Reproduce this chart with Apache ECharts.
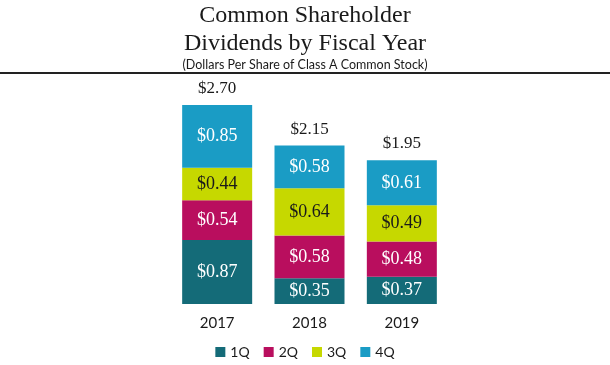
<!DOCTYPE html>
<html>
<head>
<meta charset="utf-8">
<script src="https://cdn.jsdelivr.net/npm/echarts@6/dist/echarts.min.js"></script>
<style>html,body{margin:0;padding:0;background:#fff;}#c{width:610px;height:365px;}</style>
</head>
<body>
<div id="c"></div>
<script>
var years = ['2017', '2018', '2019'];
var q1 = [0.87, 0.35, 0.37];
var q2 = [0.54, 0.58, 0.48];
var q3 = [0.44, 0.64, 0.49];
var q4 = [0.85, 0.58, 0.61];
var totals = [2.70, 2.15, 1.95];
var seriesNames = ['1Q', '2Q', '3Q', '4Q'];
var colors = ['#146b78', '#b90e5e', '#c6d800', '#1a9cc5'];
var labelColors = ['#ffffff', '#ffffff', '#1a1a1a', '#ffffff'];
var serif = '"Liberation Serif", "DejaVu Serif", serif';
var sans = 'Lato, "Liberation Sans", sans-serif';

var chart = echarts.init(document.getElementById('c'), null, {renderer: 'canvas'});
var quarterData = [q1, q2, q3, q4];
var series = quarterData.map(function (d, i) {
  return {
    name: seriesNames[i],
    type: 'bar',
    stack: 'div',
    barWidth: 70,
    data: d,
    itemStyle: {color: colors[i]},
    label: {
      show: true,
      position: 'inside',
      color: labelColors[i],
      fontFamily: serif,
      fontSize: 18,
      formatter: function (p) { return '$' + p.value.toFixed(2); }
    }
  };
});
series.push({
  name: 'Total',
  type: 'bar',
  barWidth: 70,
  barGap: '-100%',
  data: totals,
  z: 0,
  itemStyle: {color: 'rgba(0,0,0,0)'},
  label: {
    show: true,
    position: 'top',
    distance: 8,
    color: '#1a1a1a',
    fontFamily: serif,
    fontSize: 17,
    formatter: function (p) { return '$' + p.value.toFixed(2); }
  },
  emphasis: {disabled: true}
});

chart.setOption({
  animation: false,
  title: [{
    text: 'Common Shareholder\nDividends by Fiscal Year',
    left: 'center',
    top: -3,
    textStyle: {fontFamily: serif, fontSize: 24, fontWeight: 'normal', color: '#1a1a1a', lineHeight: 28}
  }, {
    text: '(Dollars Per Share of Class A Common Stock)',
    left: 'center',
    top: 53,
    textStyle: {fontFamily: sans, fontSize: 12.5, fontWeight: 'normal', color: '#1a1a1a'}
  }],
  graphic: [{
    type: 'rect',
    shape: {x: 0, y: 72, width: 610, height: 2},
    style: {fill: '#222222'}
  }],
  legend: {
    data: seriesNames,
    bottom: 1,
    left: 'center',
    itemWidth: 10,
    itemHeight: 10,
    itemGap: 14,
    icon: 'rect',
    textStyle: {fontFamily: sans, fontSize: 14, color: '#1a1a1a'}
  },
  grid: {left: 171, right: 162, top: 83, bottom: 61, containLabel: false},
  xAxis: {
    type: 'category',
    data: years,
    axisLine: {show: false},
    axisTick: {show: false},
    axisLabel: {fontFamily: sans, fontSize: 15, color: '#1a1a1a', margin: 12}
  },
  yAxis: {
    type: 'value',
    min: 0,
    max: 3,
    show: false,
    splitLine: {show: false}
  },
  series: series
});
</script>
</body>
</html>
